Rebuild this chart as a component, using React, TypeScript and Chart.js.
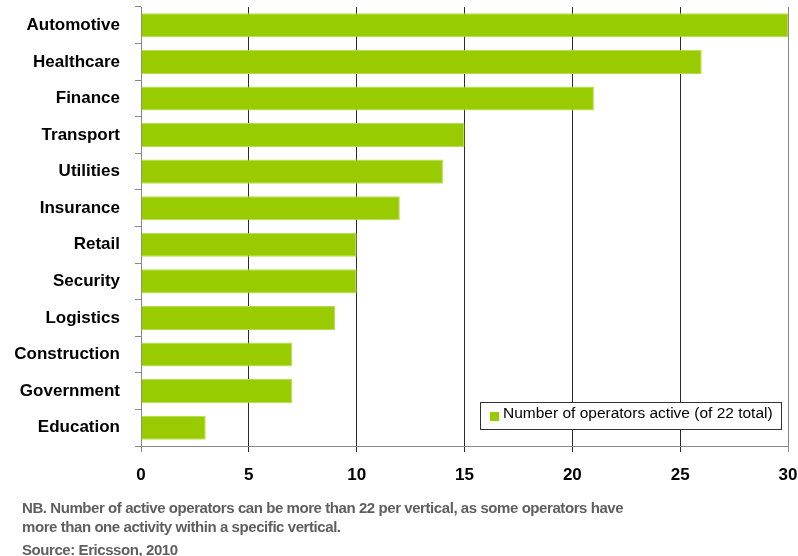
import React, { useEffect, useRef } from "react";
import { Chart, registerables } from "chart.js";

Chart.register(...registerables);

const categories = [
  "Automotive",
  "Healthcare",
  "Finance",
  "Transport",
  "Utilities",
  "Insurance",
  "Retail",
  "Security",
  "Logistics",
  "Construction",
  "Government",
  "Education",
];
const operatorsActive = [30, 26, 21, 15, 14, 12, 10, 10, 9, 7, 7, 3];
const seriesLabel = "Number of operators active (of 22 total)";
const footnoteLines = [
  "NB. Number of active operators can be more than 22 per vertical, as some operators have",
  "more than one activity within a specific vertical.",
  "Source: Ericsson, 2010",
];

const FONT = '"Liberation Sans", Arial, sans-serif';

const boxLegend = {
  id: "boxLegend",
  afterDraw(chart: any) {
    const { ctx, chartArea } = chart;
    const ds = chart.data.datasets[0];
    const w = 302;
    const h = 28;
    const right = chartArea.right - 6;
    const bottom = chartArea.bottom - 16;
    const left = right - w;
    const top = bottom - h;
    ctx.save();
    ctx.fillStyle = "#ffffff";
    ctx.fillRect(left, top, w, h);
    ctx.strokeStyle = "#333333";
    ctx.lineWidth = 1;
    ctx.strokeRect(Math.round(left) + 0.5, Math.round(top) + 0.5, w - 1, h - 1);
    ctx.fillStyle = ds.backgroundColor;
    ctx.fillRect(left + 10, top + 10, 9, 9);
    ctx.font = `15.5px ${FONT}`;
    ctx.fillStyle = "#000000";
    ctx.textBaseline = "middle";
    ctx.textAlign = "left";
    ctx.fillText(ds.label, left + 23, top + 12);
    ctx.restore();
  },
};

export default function App() {
  const ref = useRef<HTMLCanvasElement>(null);

  useEffect(() => {
    if (!ref.current) return;
    const chart = new Chart(ref.current, {
      type: "bar",
      data: {
        labels: categories,
        datasets: [
          {
            label: seriesLabel,
            data: operatorsActive,
            backgroundColor: "#99CC00",
            borderColor: "#b6dd4e",
            borderWidth: 1,
            barPercentage: 0.66,
            categoryPercentage: 1,
          },
        ],
      },
      options: {
        indexAxis: "y",
        animation: false,
        responsive: false,
        layout: { padding: { top: 7, right: 10, left: 0, bottom: 70 } },
        plugins: {
          legend: { display: false },
          tooltip: { enabled: false },
        },
        scales: {
          x: {
            min: 0,
            max: 30,
            ticks: {
              stepSize: 5,
              color: "#000",
              padding: 13,
              font: { family: FONT, size: 17, weight: "bold" },
            },
            grid: {
              color: (c: any) =>
                c.tick && (c.tick.value === 30 || c.tick.value === 0) ? "#888888" : "#2a2a2a",
              lineWidth: 1,
              tickLength: 6,
              drawTicks: true,
            },
            border: { color: "#888888", width: 1 },
            afterFit: (s: any) => {
              s.height = 40;
              s.paddingLeft = 0;
              s.paddingRight = 0;
              s.paddingTop = 0;
              s.paddingBottom = 0;
            },
          },
          y: {
            ticks: {
              color: "#000",
              padding: 15,
              font: { family: FONT, size: 17, weight: "bold" },
            },
            grid: {
              drawOnChartArea: false,
              drawTicks: true,
              tickLength: 6,
              color: "#888888",
              offset: true,
            },
            border: { color: "#888888", width: 1 },
            afterFit: (s: any) => {
              s.width = 141;
              s.paddingLeft = 0;
              s.paddingRight = 0;
              s.paddingTop = 0;
              s.paddingBottom = 0;
            },
          },
        },
      },
      plugins: [boxLegend],
    });
    return () => chart.destroy();
  }, []);

  const lineTops = [500, 519, 542];

  return (
    <div style={{ position: "absolute", left: 0, top: 0, width: 798, height: 556, background: "#fff" }}>
      <canvas ref={ref} width={798} height={556} style={{ display: "block" }} />
      {footnoteLines.map((t, i) => (
        <div
          key={i}
          style={{
            position: "absolute",
            left: 22,
            top: lineTops[i],
            fontFamily: FONT,
            fontSize: 15,
            fontWeight: "bold",
            lineHeight: "15px",
            color: "#5f5f5f",
            letterSpacing: "-0.43px",
            whiteSpace: "nowrap",
          }}
        >
          {t}
        </div>
      ))}
    </div>
  );
}
